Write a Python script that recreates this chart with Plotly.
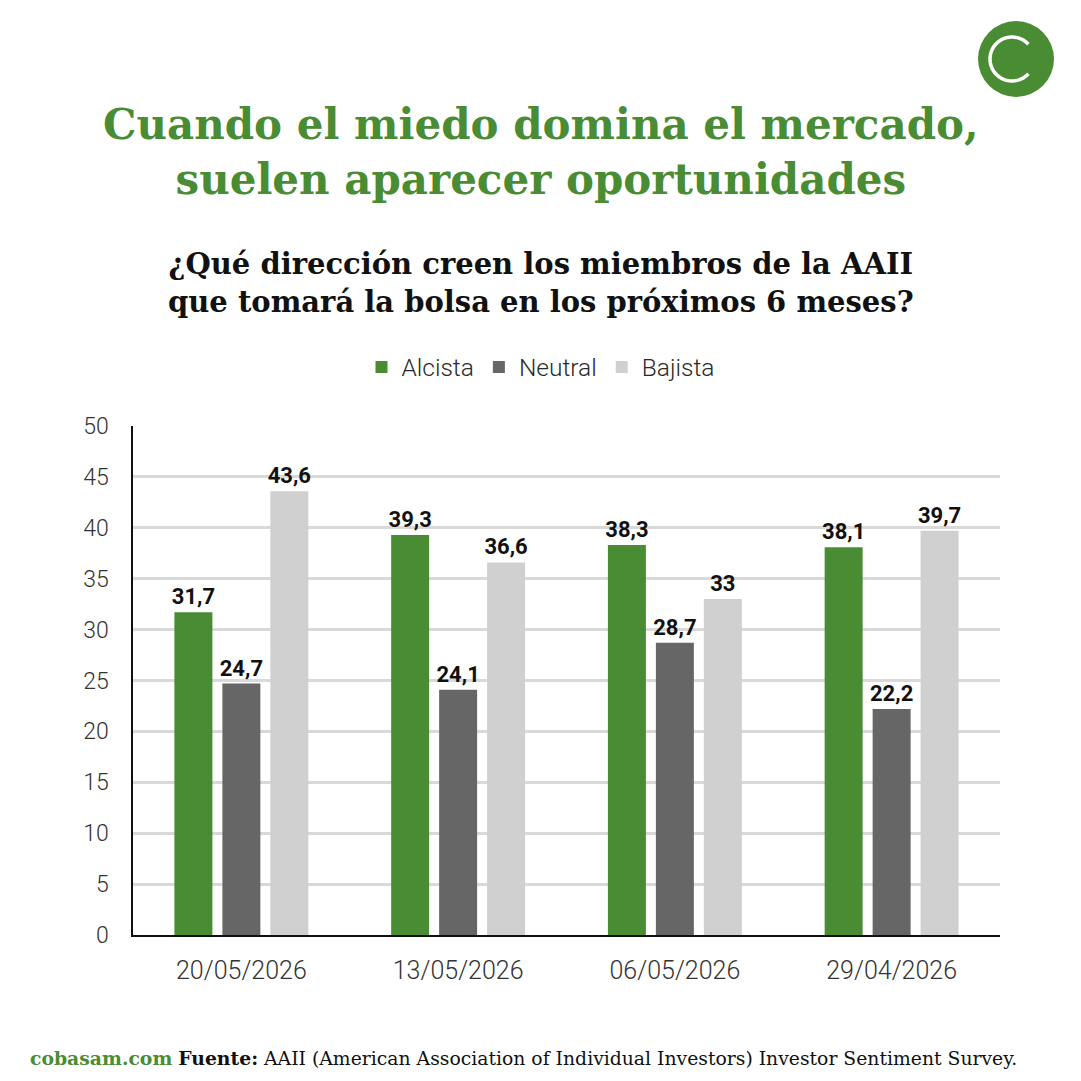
import math
import plotly.graph_objects as go

categories = ["20/05/2026", "13/05/2026", "06/05/2026", "29/04/2026"]
alcista = [31.7, 39.3, 38.3, 38.1]
neutral = [24.7, 24.1, 28.7, 22.2]
bajista = [43.6, 36.6, 33.0, 39.7]
series_names = ["Alcista", "Neutral", "Bajista"]
y_ticks = [0, 5, 10, 15, 20, 25, 30, 35, 40, 45, 50]

GREEN = "#4a8c33"
DARK = "#666666"
LIGHT = "#d0d0d0"
W = H = 1081

def fmt(v):
    return f"{v:g}".replace(".", ",")

fig = go.Figure()
for name, vals, col in zip(series_names, [alcista, neutral, bajista], [GREEN, DARK, LIGHT]):
    fig.add_trace(go.Bar(
        x=categories, y=vals, name=name, marker=dict(color=col, line=dict(width=0)),
        text=[fmt(v) for v in vals], textposition="outside", constraintext="none",
        cliponaxis=False,
        textfont=dict(family="Roboto", size=22, color="#111111", weight="bold"),
    ))

def px_x(x):
    return x / W

def px_y(y):
    return 1 - y / H

fig.update_layout(
    width=W, height=H, margin=dict(l=0, r=0, t=0, b=0, autoexpand=False),
    paper_bgcolor="white", plot_bgcolor="white",
    barmode="group", bargap=0.336, bargroupgap=0.208,
    font=dict(family="Roboto", color="#222222"),
    xaxis=dict(domain=[px_x(133), px_x(1000)], showline=True, linecolor="#111111", linewidth=2,
               ticks="", tickfont=dict(family="Roboto", size=25, color="#333333", weight=300),
               ticklabelstandoff=12, showgrid=False, fixedrange=True, automargin=False),
    yaxis=dict(domain=[px_y(935), px_y(426)], range=[0, 50], tickvals=y_ticks,
               showline=True, linecolor="#111111", linewidth=1.5,
               showgrid=True, gridcolor="#d9d9d9", gridwidth=3, zeroline=False,
               ticks="", tickfont=dict(family="Roboto", size=23, color="#333333", weight=300),
               ticklabelstandoff=18, automargin=False),
    legend=dict(orientation="h", x=0.5, xanchor="center", y=px_y(367), yanchor="middle",
                font=dict(family="Roboto", size=24.5, color="#2a2a2a", weight=300),
                itemwidth=30, tracegroupgap=0, traceorder="normal"),
    showlegend=True,
)

# Titles
fig.add_annotation(
    text="Cuando el miedo domina el mercado,<br>suelen aparecer oportunidades",
    x=0.5, y=px_y(152), xref="paper", yref="paper", xanchor="center", yanchor="middle",
    showarrow=False, align="center",
    font=dict(family="DejaVu Serif", size=42, color=GREEN, weight="bold"),
)
fig.add_annotation(
    text="¿Qué dirección creen los miembros de la AAII<br>que tomará la bolsa en los próximos 6 meses?",
    x=0.5, y=px_y(283), xref="paper", yref="paper", xanchor="center", yanchor="middle",
    showarrow=False, align="center",
    font=dict(family="DejaVu Serif", size=29, color="#111111", weight="bold"),
)
# Footer
fig.add_annotation(
    text=("<span style='color:%s'><b>cobasam.com</b></span> <b>Fuente:</b> "
          "AAII (American Association of Individual Investors) Investor Sentiment Survey." % GREEN),
    x=px_x(28), y=px_y(1058), xref="paper", yref="paper", xanchor="left", yanchor="middle",
    showarrow=False, align="left",
    font=dict(family="DejaVu Serif", size=18.8, color="#111111"),
)

# Logo
cx, cy = px_x(1016), px_y(59)
fig.add_shape(type="circle", xref="paper", yref="paper", xsizemode="pixel", ysizemode="pixel",
              xanchor=cx, yanchor=cy, x0=-38, x1=38, y0=-38, y1=38,
              fillcolor=GREEN, line=dict(width=0), layer="above")
pts = []
for i in range(0, 61):
    a = math.radians(42 + i * (276 / 60))
    pts.append((-4 + 22 * math.cos(a), 22 * math.sin(a)))
path = "M " + " L ".join(f"{x:.2f},{y:.2f}" for x, y in pts)
fig.add_shape(type="path", xref="paper", yref="paper", xsizemode="pixel", ysizemode="pixel",
              xanchor=cx, yanchor=cy, path=path, line=dict(color="white", width=3.5),
              fillcolor="rgba(0,0,0,0)", layer="above")

fig.write_html("out.html")
